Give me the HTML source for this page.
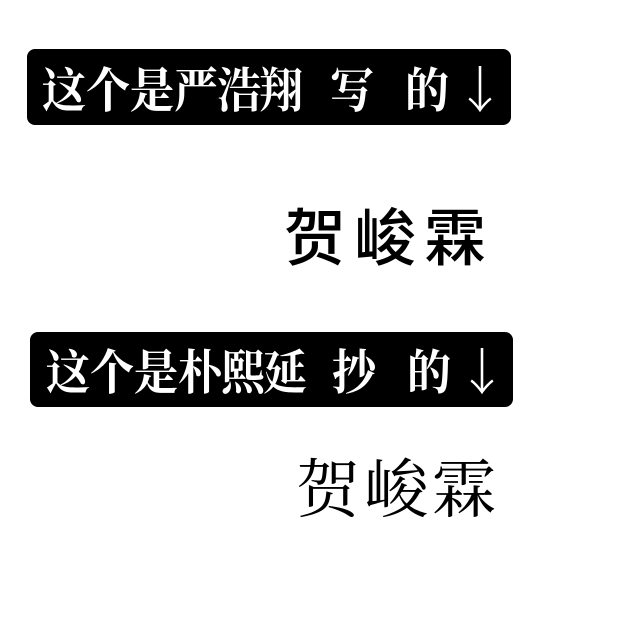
<!DOCTYPE html>
<html><head><meta charset="utf-8"><style>
html,body{margin:0;padding:0;background:#fff;width:640px;height:642px;overflow:hidden;position:relative}
.box{position:absolute;background:#000;border-radius:8px}
.c{position:absolute;color:#fff;font-family:"Noto Serif CJK SC",serif;font-weight:700;font-size:48px;line-height:48px;width:48px;text-align:center;transform:scaleX(0.92);transform-origin:left top}
.a{position:absolute;color:#fff;font-family:"Noto Sans CJK SC",sans-serif;font-weight:300;font-size:50px;line-height:48px;width:30px;text-align:center}
.h{position:absolute;font-family:"Noto Sans CJK SC",sans-serif;font-weight:500;font-size:62px;line-height:64px;color:#000}
.s{position:absolute;font-family:"Noto Serif CJK SC",serif;font-weight:400;font-size:64px;line-height:66px;color:#000}
</style></head><body>
<div class="box" style="left:27px;top:49px;width:484px;height:76px"></div>
<span class="c" style="left:42px;top:63px">这</span>
<span class="c" style="left:86px;top:63px">个</span>
<span class="c" style="left:130px;top:63px">是</span>
<span class="c" style="left:174px;top:63px">严</span>
<span class="c" style="left:217px;top:63px">浩</span>
<span class="c" style="left:259px;top:63px">翔</span>
<span class="c" style="left:330px;top:63px">写</span>
<span class="c" style="left:405px;top:63px">的</span>
<span class="a" style="left:455px;top:63px">↓</span>
<div class="h" style="left:284px;top:201px;letter-spacing:8px">贺峻霖</div>

<div class="box" style="left:30px;top:332px;width:483px;height:75px"></div>
<span class="c" style="left:46px;top:345px">这</span>
<span class="c" style="left:90px;top:345px">个</span>
<span class="c" style="left:134px;top:345px">是</span>
<span class="c" style="left:178px;top:345px">朴</span>
<span class="c" style="left:221px;top:345px">熙</span>
<span class="c" style="left:263px;top:345px">延</span>
<span class="c" style="left:332px;top:345px">抄</span>
<span class="c" style="left:407px;top:345px">的</span>
<span class="a" style="left:457px;top:345px">↓</span>
<div class="s" style="left:296px;top:452px;letter-spacing:4px">贺峻霖</div>
</body></html>
